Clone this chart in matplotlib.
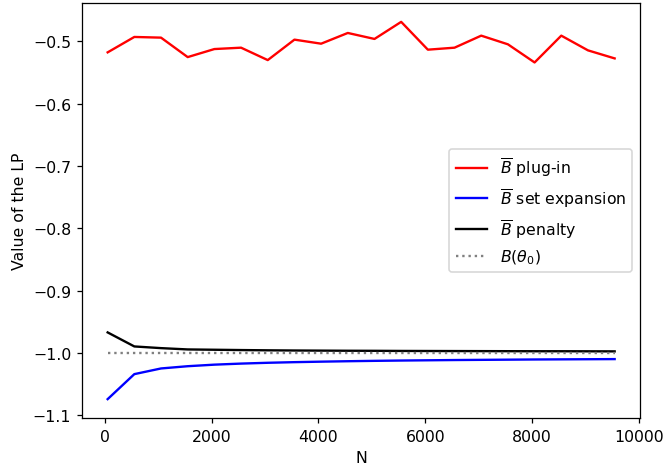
import matplotlib
matplotlib.use("Agg")
import matplotlib.pyplot as plt
import numpy as np

N = [50 + 500 * i for i in range(20)]

plug_in = [-0.5177, -0.4930, -0.4941, -0.5253, -0.5124, -0.5102, -0.5301, -0.4973,
           -0.5038, -0.4866, -0.4962, -0.4688, -0.5134, -0.5102, -0.4909, -0.5048,
           -0.5339, -0.4909, -0.5145, -0.5274]

set_expansion = [-1.0738, -1.0337, -1.0246, -1.0210, -1.0185, -1.0168, -1.0155, -1.0145,
                 -1.0137, -1.0130, -1.0124, -1.0119, -1.0115, -1.0111, -1.0108, -1.0105,
                 -1.0102, -1.0100, -1.0098, -1.0096]

penalty = [-0.9668, -0.9893, -0.9920, -0.9941, -0.9946, -0.9951, -0.9955, -0.9958,
           -0.9960, -0.9962, -0.9963, -0.9965, -0.9966, -0.9967, -0.9968, -0.9969,
           -0.9970, -0.9970, -0.9971, -0.9972]

true_value = [-1.0] * 20

labels = [r'$\overline{B}$ plug-in', r'$\overline{B}$ set expansion',
          r'$\overline{B}$ penalty', r'$B(\theta_0)$']

dpi = 113
fig = plt.figure(figsize=(664 / dpi, 469 / dpi), dpi=dpi)
ax = fig.add_axes([82.3 / 664, 50 / 469, (640 - 82.3) / 664, 415 / 469])

ax.plot(N, plug_in, color='red', label=labels[0])
ax.plot(N, set_expansion, color='blue', label=labels[1])
ax.plot(N, penalty, color='black', label=labels[2])
ax.plot(N, true_value, color='gray', linestyle=':', label=labels[3])

ax.set_xlabel('N')
ax.set_ylabel('Value of the LP')
ax.set_xticks([0, 2000, 4000, 6000, 8000, 10000])
ax.legend(loc='center right')

fig.savefig('out.png', dpi=dpi)
